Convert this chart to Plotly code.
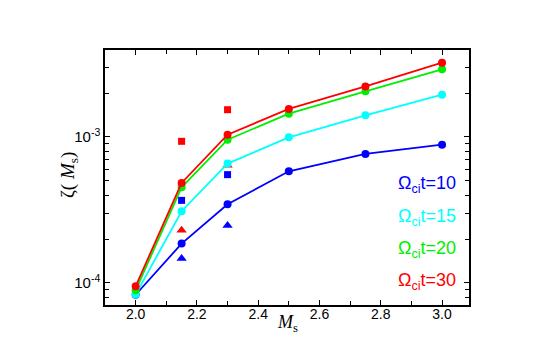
import plotly.graph_objects as go

# ---- data ----
ms = [2.0, 2.15, 2.3, 2.5, 2.75, 3.0]
zeta_t10 = [8.3e-5, 1.86e-4, 3.46e-4, 5.82e-4, 7.65e-4, 8.86e-4]
zeta_t15 = [8.32e-5, 3.10e-4, 6.57e-4, 9.95e-4, 1.408e-3, 1.949e-3]
zeta_t20 = [8.91e-5, 4.52e-4, 9.58e-4, 1.444e-3, 2.056e-3, 2.91e-3]
zeta_t30 = [9.49e-5, 4.84e-4, 1.037e-3, 1.556e-3, 2.22e-3, 3.23e-3]

extra_x = [2.15, 2.3]
sq_blue = [3.68e-4, 5.52e-4]
sq_red = [9.34e-4, 1.538e-3]
tri_blue = [1.47e-4, 2.48e-4]
tri_red = [2.30e-4, 6.40e-4]

labels = ["Ω<sub>ci</sub>t=10", "Ω<sub>ci</sub>t=15", "Ω<sub>ci</sub>t=20", "Ω<sub>ci</sub>t=30"]
colors = ["#0000ff", "#00ffff", "#00ee00", "#ff0000"]

x_ticks = [2.0, 2.2, 2.4, 2.6, 2.8, 3.0]
x_ticktext = ["2.0", "2.2", "2.4", "2.6", "2.8", "3.0"]
y_ticks = [1e-4, 1e-3]
y_ticktext = ["10<sup>-4</sup>", "10<sup>-3</sup>"]
y_minor = [m * 10.0 ** e for e in (-5, -4, -3) for m in range(2, 10)]

fig = go.Figure()

# isolated markers first
fig.add_trace(go.Scatter(x=extra_x, y=tri_blue, mode="markers",
                         marker=dict(symbol="triangle-up", size=9, color=colors[0]), showlegend=False))
fig.add_trace(go.Scatter(x=extra_x, y=tri_red, mode="markers",
                         marker=dict(symbol="triangle-up", size=9, color=colors[3]), showlegend=False))
fig.add_trace(go.Scatter(x=extra_x, y=sq_blue, mode="markers",
                         marker=dict(symbol="square", size=7, color=colors[0]), showlegend=False))
fig.add_trace(go.Scatter(x=extra_x, y=sq_red, mode="markers",
                         marker=dict(symbol="square", size=7, color=colors[3]), showlegend=False))

for ys, c in zip([zeta_t10, zeta_t15, zeta_t20, zeta_t30], colors):
    fig.add_trace(go.Scatter(x=ms, y=ys, mode="lines+markers",
                             line=dict(color=c, width=1.8),
                             marker=dict(symbol="circle", size=8, color=c),
                             showlegend=False))

# legend-like colored labels
label_y = [176, 209, 241, 273]
for lab, c, py in zip(labels, colors, label_y):
    fig.add_annotation(text=lab, xref="paper", yref="paper",
                       x=(450 - 97) / 364, y=(297 - py) / 255,
                       xanchor="right", yanchor="middle", showarrow=False,
                       font=dict(family="Liberation Sans", size=18, color=c))

# axis titles
fig.add_annotation(text="<i>M</i><sub>s</sub>", xref="paper", yref="paper",
                   x=(279 - 97) / 364, y=(297 - 315) / 255, xanchor="center", yanchor="middle",
                   showarrow=False, font=dict(family="Liberation Serif", size=18, color="black"))
fig.add_annotation(text="ζ( <i>M</i><sub>s</sub>)", xref="paper", yref="paper",
                   x=(61 - 97) / 364, y=(297 - 167) / 255, xanchor="center", yanchor="middle",
                   textangle=-90, showarrow=False,
                   font=dict(family="Liberation Serif", size=19, color="black"))

axis_common = dict(showline=True, linecolor="black", linewidth=1.5, mirror="ticks",
                   ticks="inside", tickcolor="black", tickwidth=1.2, showgrid=False, zeroline=False)

fig.update_xaxes(range=[1.9, 3.088], tickmode="array", tickvals=x_ticks, ticktext=x_ticktext,
                 ticklen=5, ticklabelstandoff=-5,
                 tickfont=dict(family="Liberation Sans", size=14, color="black"),
                 minor=dict(tickmode="linear", dtick=0.1, tick0=2.0, ticks="inside", ticklen=4,
                            tickcolor="black", tickwidth=1.2),
                 **axis_common)
fig.update_yaxes(type="log", range=[-4.151, -2.404], tickmode="array", tickvals=y_ticks,
                 ticktext=y_ticktext, ticklen=5,
                 tickfont=dict(family="Liberation Sans", size=15, color="black"),
                 minor=dict(tickmode="array", tickvals=y_minor, ticks="inside", ticklen=4,
                            tickcolor="black", tickwidth=1.2),
                 **axis_common)

fig.update_layout(width=540, height=357, margin=dict(l=97, r=79, t=42, b=60),
                  plot_bgcolor="white", paper_bgcolor="white")

fig.write_html("out.html")
